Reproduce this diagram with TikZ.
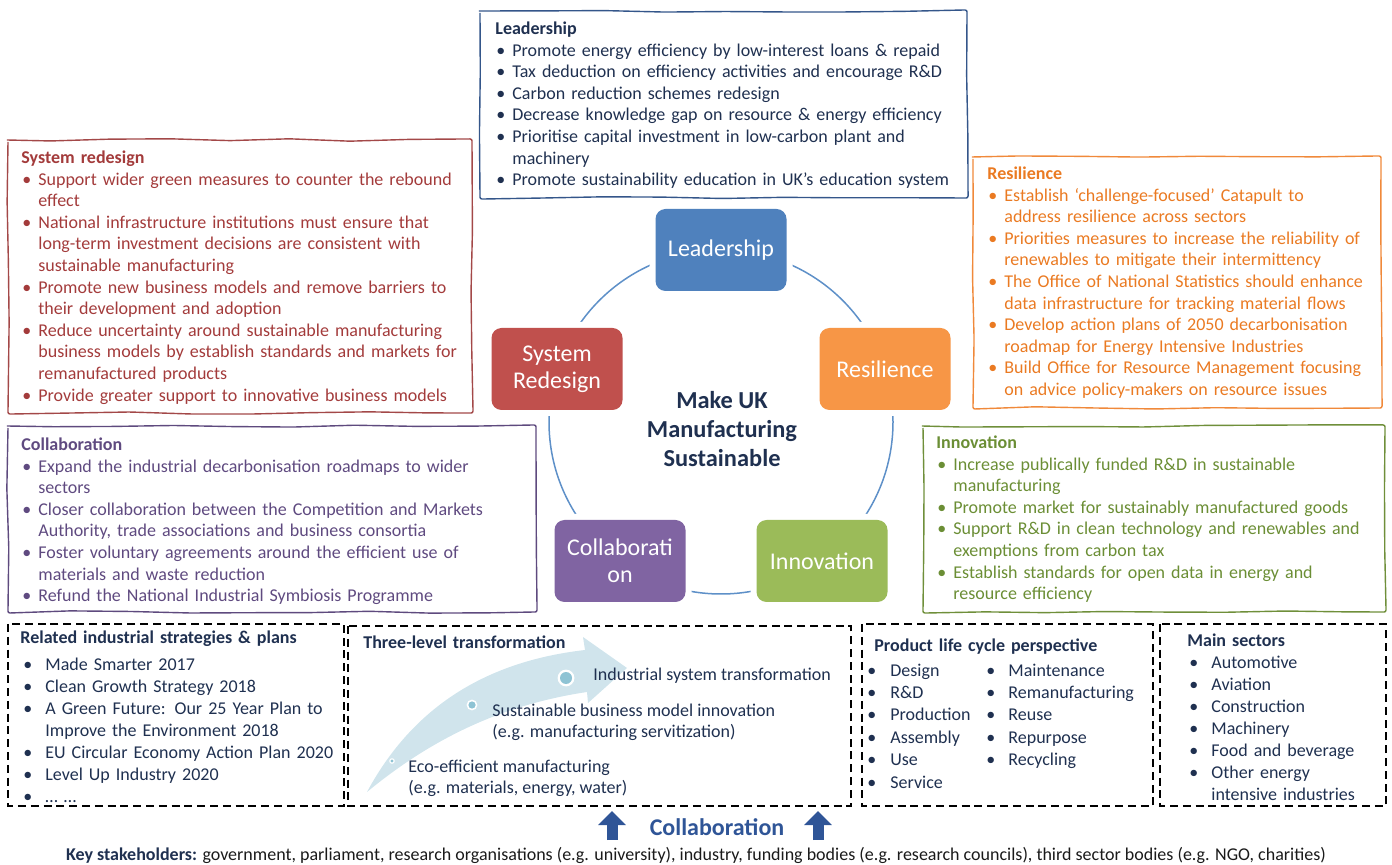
\documentclass[tikz,border=0pt]{standalone}
\usepackage{fontspec}
\setmainfont{Carlito}
\usetikzlibrary{arrows.meta,decorations.pathmorphing}

\definecolor{leadfill}{HTML}{4F81BD}
\definecolor{redfill}{HTML}{C0504D}
\definecolor{orangefill}{HTML}{F79646}
\definecolor{purplefill}{HTML}{8064A2}
\definecolor{greenfill}{HTML}{9BBB59}
\definecolor{navy}{HTML}{1F3050}
\definecolor{leadline}{HTML}{34568A}
\definecolor{redtext}{HTML}{A33B3B}
\definecolor{redline}{HTML}{A34848}
\definecolor{orangetext}{HTML}{EA7A22}
\definecolor{orangeline}{HTML}{F0893A}
\definecolor{purpletext}{HTML}{5F4A80}
\definecolor{purpleline}{HTML}{5E4A7E}
\definecolor{greentext}{HTML}{6B8E35}
\definecolor{greenline}{HTML}{6F8F3A}
\definecolor{arrowblue}{HTML}{D0E4EC}
\definecolor{dotblue}{HTML}{8EC3D4}
\definecolor{collabblue}{HTML}{2F5597}
\definecolor{ringblue}{HTML}{5E90C8}
\definecolor{inkgray}{HTML}{1A1A1A}

\newlength\bulind
\newlength\bulpre
\newcommand\bul[1]{\par\hangindent=\bulind\hangafter=1\noindent\makebox[\bulind][l]{\hspace{\bulpre}\textbullet}#1}

\tikzset{
  panel/.style={anchor=north west, inner sep=0pt, text width=300pt, align=left,
    font=\fontsize{9}{10.8}\selectfont\setlength\bulind{8.5pt}\setlength\bulpre{0.5pt}},
  dashlist/.style={panel, text=navy,
    font=\fontsize{9}{11}\selectfont\setlength\bulind{12.5pt}\setlength\bulpre{1.5pt}},
  wobbly/.style={line width=0.7pt, decorate,
    decoration={random steps, segment length=30pt, amplitude=0.6pt}, rounded corners=1pt},
  dashbox/.style={line width=1pt, dash pattern=on 4pt off 2.4pt},
  pillar/.style={rounded corners=5pt, minimum width=65.5pt, minimum height=41pt, inner sep=1pt,
    text=white, align=center, font=\fontsize{12}{13.5}\selectfont,
    preaction={draw=white, line width=6pt}},
  stepline/.style={anchor=base west, inner sep=0pt, text=navy, font=\fontsize{9}{10.8}\selectfont},
}

\begin{document}
\pgfmathsetseed{7}
\begin{tikzpicture}[x=0.5pt, y=-0.5pt]
\useasboundingbox (0,0) rectangle (1392,865);

\draw[wobbly, leadline] (480,11) rectangle (967,198);
\node[panel, text=navy] (leadtxt) at (495,19) {\noindent\strut\textbf{Leadership}
\bul{Promote energy efficiency by low-interest loans \& repaid}
\bul{Tax deduction on efficiency activities and encourage R\&D}
\bul{Carbon reduction schemes redesign}
\bul{Decrease knowledge gap on resource \& energy efficiency}
\bul{Prioritise capital investment in low-carbon plant and\newline machinery}
\bul{Promote sustainability education in UK’s education system}\par};

\draw[wobbly, redline] (8,140) rectangle (472,413);
\node[panel, text=redtext] (sysredtxt) at (21,148) {\noindent\strut\textbf{System redesign}
\bul{Support wider green measures to counter the rebound\newline effect}
\bul{National infrastructure institutions must ensure that\newline long-term investment decisions are consistent with\newline sustainable manufacturing}
\bul{Promote new business models and remove barriers to\newline their development and adoption}
\bul{Reduce uncertainty around sustainable manufacturing\newline business models by establish standards and markets for\newline remanufactured products}
\bul{Provide greater support to innovative business models}\par};

\draw[wobbly, orangeline] (973,157) rectangle (1381,408);
\node[panel, text=orangetext] (resiltxt) at (987,164) {\noindent\strut\textbf{Resilience}
\bul{Establish ‘challenge-focused’ Catapult to\newline address resilience across sectors}
\bul{Priorities measures to increase the reliability of\newline renewables to mitigate their intermittency}
\bul{The Office of National Statistics should enhance\newline data infrastructure for tracking material flows}
\bul{Develop action plans of 2050 decarbonisation\newline roadmap for Energy Intensive Industries}
\bul{Build Office for Resource Management focusing\newline on advice policy-makers on resource issues}\par};

\draw[wobbly, purpleline] (8,426) rectangle (536,612);
\node[panel, text=purpletext] (collabtxt) at (21,435) {\noindent\strut\textbf{Collaboration}
\bul{Expand the industrial decarbonisation roadmaps to wider\newline sectors}
\bul{Closer collaboration between the Competition and Markets\newline Authority, trade associations and business consortia}
\bul{Foster voluntary agreements around the efficient use of\newline materials and waste reduction}
\bul{Refund the National Industrial Symbiosis Programme}\par};

\draw[wobbly, greenline] (923,426) rectangle (1385,612);
\node[panel, text=greentext] (innovtxt) at (936,433) {\noindent\strut\textbf{Innovation}
\bul{Increase publically funded R\&D in sustainable\newline manufacturing}
\bul{Promote market for sustainably manufactured goods}
\bul{Support R\&D in clean technology and renewables and\newline exemptions from carbon tax}
\bul{Establish standards for open data in energy and\newline resource efficiency}\par};

\draw[ringblue, line width=0.75pt] (721,422) circle[radius=86pt];
\node[pillar, fill=leadfill] (lead) at (721,250) {Leadership};
\node[pillar, fill=redfill] (sysred) at (557,369) {System\\Redesign};
\node[pillar, fill=orangefill] (resil) at (885,369) {Resilience};
\node[pillar, fill=purplefill] (collab) at (620,561) {Collaborati\\on};
\node[pillar, fill=greenfill] (innov) at (822,561) {Innovation};
\node[text=navy, align=center, font=\bfseries\fontsize{12.2}{14.3}\selectfont] (goal) at (722,429) {Make UK\\Manufacturing\\Sustainable};

\draw[dashbox] (8,624) rectangle (344,806);
\node[dashlist] (plans) at (20,628) {\noindent\strut\textbf{Related industrial strategies \& plans}\par\vspace{2.5pt}
\noindent\makebox[\bulind][l]{\hspace{\bulpre}\textbullet}Made Smarter 2017
\bul{Clean Growth Strategy 2018}
\bul{A Green Future: Our 25 Year Plan to\newline Improve the Environment 2018}
\bul{EU Circular Economy Action Plan 2020}
\bul{Level Up Industry 2020}
\bul{… …}\par};

\draw[dashbox] (348,626) rectangle (851,806);
\fill[arrowblue] (367,792) .. controls (410,712) and (480,662) .. (585,650) -- (583,637) -- (627,668)
  -- (588,703) -- (587,692) .. controls (500,705) and (430,740) .. (367,792) -- cycle;
\fill[white] (566,678) circle[radius=4.2pt];
\fill[dotblue] (566,678) circle[radius=3pt];
\fill[white] (472,705) circle[radius=2.7pt];
\fill[dotblue] (472,705) circle[radius=1.8pt];
\fill[white] (392,761) circle[radius=1.4pt];
\fill[dotblue] (392,761) circle[radius=0.8pt];
\node[dashlist] (levels) at (363,633) {\noindent\strut\textbf{Three-level transformation}\par};
\node[stepline] (lvlc) at (593,681) {Industrial system transformation};
\node[stepline] (lvlb) at (492,716) {Sustainable business model innovation};
\node[stepline] (lvlbx) at (492,737) {(e.g. manufacturing servitization)};
\node[stepline] (lvla) at (408,772) {Eco-efficient manufacturing};
\node[stepline] (lvlax) at (408,793) {(e.g. materials, energy, water)};

\draw[dashbox] (862,624) rectangle (1153,806);
\node[dashlist] (cycle) at (874,636) {\noindent\strut\textbf{Product life cycle perspective}\par};
\node[dashlist, text width=60pt, font=\fontsize{9}{11.2}\selectfont\setlength\bulind{11.5pt}\setlength\bulpre{0pt}] (cyclea) at (867,660) {\noindent\strut\makebox[\bulind][l]{\textbullet}Design
\bul{R\&D}\bul{Production}\bul{Assembly}\bul{Use}\bul{Service}\par};
\node[dashlist, text width=80pt, font=\fontsize{9}{11.2}\selectfont\setlength\bulind{11pt}\setlength\bulpre{0pt}] (cycleb) at (986,660) {\noindent\strut\makebox[\bulind][l]{\textbullet}Maintenance
\bul{Remanufacturing}\bul{Reuse}\bul{Repurpose}\bul{Recycling}\par};

\draw[dashbox] (1160,624) rectangle (1386,806);
\node[dashlist, font=\fontsize{9}{11}\selectfont\setlength\bulind{12pt}\setlength\bulpre{1pt}] (sectors) at (1187,631) {\noindent\strut\textbf{Main sectors}
\bul{Automotive}
\bul{Aviation}
\bul{Construction}
\bul{Machinery}
\bul{Food and beverage}
\bul{Other energy\newline intensive industries}\par};

\coordinate (upAfoot) at (612,840);
\coordinate (upAtip) at (612,811);
\coordinate (upBfoot) at (818,840);
\coordinate (upBtip) at (818,811);
\draw[collabblue, line width=5.5pt, -{Triangle[width=13.5pt, length=7pt]}] (upAfoot) -- (upAtip);
\draw[collabblue, line width=5.5pt, -{Triangle[width=13.5pt, length=7pt]}] (upBfoot) -- (upBtip);
\node[text=collabblue, font=\bfseries\fontsize{12}{14}\selectfont] (together) at (717,827) {Collaboration};
\node[text=inkgray, font=\fontsize{9}{11}\selectfont] (stake) at (696,855) {\textcolor{navy}{\textbf{Key stakeholders:}} government, parliament, research organisations (e.g. university), industry, funding bodies (e.g. research councils), third sector bodies (e.g. NGO, charities)};
\end{tikzpicture}
\end{document}
